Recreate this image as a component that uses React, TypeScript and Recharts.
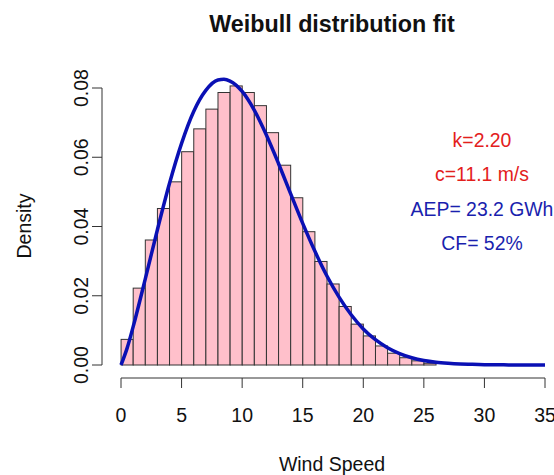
import {
  ComposedChart, Bar, Line, XAxis, YAxis, ReferenceLine, Customized
} from 'recharts';

// histogram of wind speed, 1 m/s bins starting at 0
const binDensity = [
  0.0074, 0.0222, 0.0361, 0.0452, 0.0529, 0.0616, 0.0682, 0.0739, 0.0787, 0.0806,
  0.0787, 0.0749, 0.0671, 0.0577, 0.0483, 0.0385, 0.0299, 0.0234, 0.0169, 0.0118,
  0.0084, 0.0055, 0.0034, 0.0021, 0.0012, 0.0005,
];

// fitted Weibull curve
const fitX = [0, 0.5, 1, 2, 3, 4, 5, 6, 7, 8, 8.5, 9, 10, 11, 12, 13, 14, 15, 16, 17, 18,
  19, 20, 21, 22, 23, 24, 25, 26, 27, 28, 29, 30, 31, 32, 33, 34, 35];
const fitY = [0, 0.0048, 0.011, 0.0248, 0.039, 0.0524, 0.064, 0.0732, 0.0793, 0.0823, 0.0825,
  0.082, 0.079, 0.0736, 0.0664, 0.0582, 0.0495, 0.0409, 0.0329, 0.0257, 0.0196,
  0.0145, 0.0104, 0.0073, 0.005, 0.0033, 0.0021, 0.0013, 0.0008, 0.0005, 0.0003, 0.0002,
  0.0001, 0.00005, 0.00003, 0.00001, 0.00001, 0];

const xTicks = [0, 5, 10, 15, 20, 25, 30, 35];
const yTicks = [0, 0.02, 0.04, 0.06, 0.08];

const annotations = [
  { text: 'k=2.20', color: '#e3201c' },
  { text: 'c=11.1 m/s', color: '#e3201c' },
  { text: 'AEP= 23.2 GWh', color: '#1a1fae' },
  { text: 'CF= 52%', color: '#1a1fae' },
];

// merge bins (at mid points) and curve points into one table
const rowMap = new Map<number, { x: number; density?: number; fit?: number }>();
binDensity.forEach((d, i) => rowMap.set(i + 0.5, { x: i + 0.5, density: d }));
fitX.forEach((x, i) => {
  const r = rowMap.get(x) ?? { x };
  r.fit = fitY[i];
  rowMap.set(x, r);
});
const rows = [...rowMap.values()].sort((a, b) => a.x - b.x);

const W = 554;
const H = 475;
const FONT = '"Liberation Sans", Arial, Helvetica, sans-serif';
const PLOT_LEFT = 102;
const PLOT_TOP = 74;
const PLOT_BOTTOM = 378;
const PAD_LEFT = 19;
const PAD_TOP = 14;
const PAD_BOTTOM = 13;
const MARGIN_RIGHT = 9;

const pxPerX = (W - MARGIN_RIGHT - PLOT_LEFT - PAD_LEFT) / 35;
const pxPerY = (PLOT_BOTTOM - PAD_BOTTOM - PLOT_TOP - PAD_TOP) / 0.08;
// the R style axes sit a little outside the data range
const axisXPos = -PAD_LEFT / pxPerX;
const axisYPos = -PAD_BOTTOM / pxPerY;
const yMax = 0.08 + PAD_TOP / pxPerY;

const XTick = (props: any) => (
  <text x={props.x} y={PLOT_BOTTOM + 44} textAnchor="middle" fontSize={19.5} fontFamily={FONT} fill="#111">
    {props.payload.value}
  </text>
);

const YTick = (props: any) => (
  <text
    x={88} y={props.y} textAnchor="middle" fontSize={19.5} fontFamily={FONT} fill="#111"
    transform={`rotate(-90, 88, ${props.y})`}
  >
    {props.payload.value.toFixed(2)}
  </text>
);

// full-width histogram bin centred on the library's bar position
const BinShape = (props: any) => {
  if (!props.height) return null;
  const cx = props.x + props.width / 2;
  return (
    <rect
      x={cx - pxPerX / 2} y={props.y} width={pxPerX} height={props.height}
      fill="#ffc0cb" stroke="#333" strokeWidth={1}
    />
  );
};

const Texts = () => (
  <g fontFamily={FONT}>
    <text x={332} y={31.5} textAnchor="middle" fontSize={23.3} fontWeight="bold" fill="#111">
      Weibull distribution fit
    </text>
    <text x={332} y={471} textAnchor="middle" fontSize={19.5} fill="#111">Wind Speed</text>
    <text x={31} y={226} textAnchor="middle" fontSize={19.5} fill="#111" transform="rotate(-90, 31, 226)">
      Density
    </text>
    {annotations.map((a, i) => (
      <text key={a.text} x={482} y={147 + i * 34.4} textAnchor="middle" fontSize={19.4} fill={a.color}>
        {a.text}
      </text>
    ))}
  </g>
);

export default function App() {
  return (
    <div style={{ position: 'absolute', left: 0, top: 0, background: '#fff' }}>
      <ComposedChart
        width={W}
        height={H}
        data={rows}
        margin={{ top: PLOT_TOP, right: MARGIN_RIGHT, bottom: 0, left: 0 }}
      >
        <XAxis
          type="number" dataKey="x" domain={[axisXPos, 35]} ticks={xTicks} interval={0}
          allowDataOverflow axisLine={false} tickSize={10} tickLine={{ stroke: '#333' }}
          height={H - PLOT_BOTTOM} tick={XTick}
        />
        <YAxis
          type="number" domain={[axisYPos, yMax]} ticks={yTicks} interval={0}
          allowDataOverflow axisLine={false} tickSize={10} tickLine={{ stroke: '#333' }}
          width={PLOT_LEFT} tick={YTick}
        />
        <Bar dataKey="density" shape={BinShape} isAnimationActive={false} />
        <Line
          type="monotone" dataKey="fit" stroke="#0a10b4" strokeWidth={3.5}
          dot={false} connectNulls isAnimationActive={false}
        />
        <ReferenceLine
          segment={[{ x: axisXPos, y: 0 }, { x: axisXPos, y: 0.08 }]}
          stroke="#333" ifOverflow="visible"
        />
        <ReferenceLine
          segment={[{ x: 0, y: axisYPos }, { x: 35, y: axisYPos }]}
          stroke="#333" ifOverflow="visible"
        />
        <Customized component={Texts} />
      </ComposedChart>
    </div>
  );
}
